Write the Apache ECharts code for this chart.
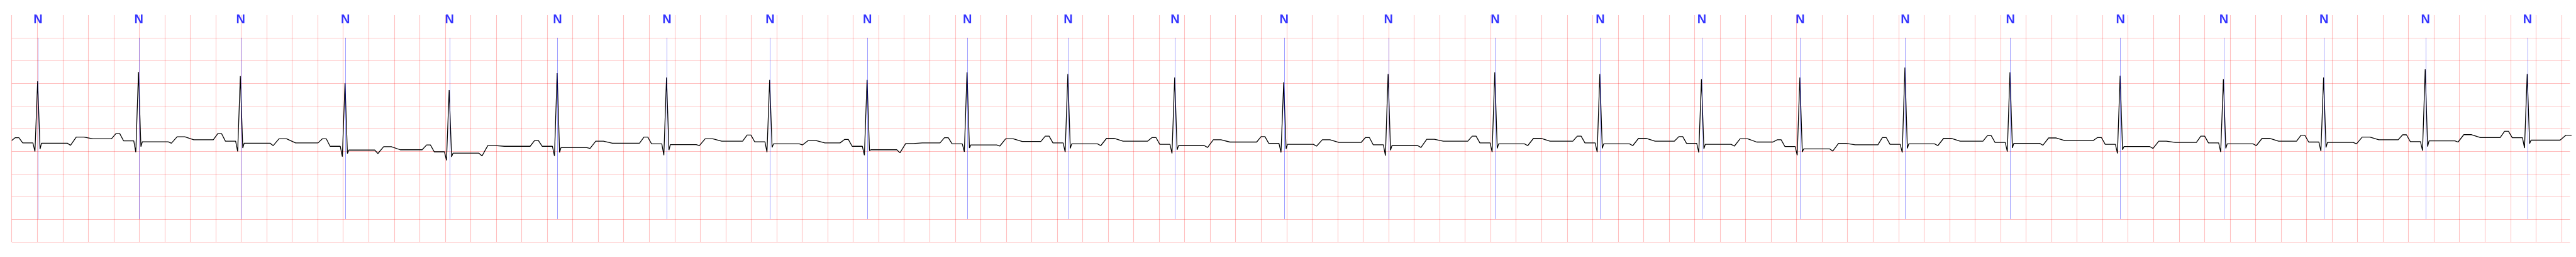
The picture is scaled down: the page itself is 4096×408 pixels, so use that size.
<!DOCTYPE html>
<html><head><meta charset="utf-8">
<script src="https://cdn.jsdelivr.net/npm/echarts@6/dist/echarts.min.js"></script>
<style>html,body{margin:0;padding:0;background:#fff;overflow:hidden}#c{width:4096px;height:408px}</style>
</head><body><div id="c"></div><script>
// Beat annotation times (s) and labels
const beatTimes = [0.206,0.997,1.796,2.617,3.434,4.281,5.139,5.948,6.712,7.496,8.287,9.125,9.980,10.799,11.636,12.460,13.257,14.029,14.853,15.677,16.541,17.351,18.137,18.934,19.734];
const beatLabels = ['N','N','N','N','N','N','N','N','N','N','N','N','N','N','N','N','N','N','N','N','N','N','N','N','N'];
// ECG key values per beat (mV)
const pPeak   = [0.295,0.385,0.385,0.272,0.136,0.234,0.310,0.355,0.257,0.295,0.33,0.30,0.32,0.30,0.33,0.33,0.32,0.25,0.30,0.34,0.30,0.33,0.35,0.36,0.438];
const prLevel = [0.181,0.227,0.219,0.106,-0.015,0.106,0.159,0.204,0.106,0.159,0.18,0.15,0.17,0.14,0.18,0.18,0.17,0.10,0.15,0.19,0.15,0.18,0.20,0.21,0.295];
const qTrough = [-0.008,-0.023,-0.008,-0.121,-0.204,-0.106,-0.091,-0.023,-0.091,-0.015,-0.02,-0.05,-0.03,-0.10,-0.02,-0.02,-0.03,-0.09,-0.03,-0.01,-0.05,-0.02,0.00,0.01,0.068];
const rPeak   = [1.541,1.745,1.654,1.495,1.344,1.722,1.624,1.571,1.571,1.737,1.699,1.624,1.518,1.699,1.737,1.699,1.586,1.624,1.843,1.737,1.662,1.586,1.624,1.805,1.699];
const sTrough = [0.045,0.098,0.068,-0.053,-0.128,-0.030,0.023,0.083,0.008,0.068,0.06,0.03,0.05,0.02,0.06,0.06,0.05,-0.02,0.06,0.07,0.03,0.06,0.08,0.10,0.166];
const stLevel = [0.174,0.204,0.174,0.023,-0.045,0.076,0.144,0.159,0.030,0.136,0.16,0.12,0.15,0.12,0.16,0.16,0.15,0.05,0.16,0.17,0.10,0.16,0.19,0.227,0.242];
const stEnd   = [0.128,0.174,0.121,-0.053,-0.106,0.060,0.121,0.136,-0.038,0.113,0.12,0.08,0.11,0.08,0.12,0.12,0.11,0.00,0.12,0.13,0.06,0.12,0.16,0.20,0.242];
const tPeak   = [0.310,0.317,0.272,0.098,0.121,0.219,0.272,0.234,0.166,0.272,0.28,0.25,0.25,0.26,0.28,0.28,0.27,0.17,0.28,0.29,0.22,0.28,0.31,0.363,0.35];
const tTail   = [0.272,0.249,0.181,0.030,0.106,0.174,0.219,0.181,0.181,0.211,0.22,0.20,0.19,0.22,0.22,0.22,0.20,0.14,0.22,0.23,0.19,0.22,0.25,0.30,0.30];
const startLevel = 0.234;
// Wave timing offsets relative to R (s)
const waveOffsets = {pStart:-0.215,pUp:-0.18,pDown:-0.15,prStart:-0.12,qStart:-0.04,q:-0.024,rA:-0.003,rB:0.003,s:0.016,st:0.027,stStop:0.23,stEnd:0.255,tA:0.30,tB:0.36,tail:0.43};

const ecg = [[0, startLevel]];
beatTimes.forEach((R, i) => {
  const o = waveOffsets;
  if (i > 0) ecg.push([R + o.pStart, tTail[i - 1]]);
  ecg.push([R + o.pUp, pPeak[i]], [R + o.pDown, pPeak[i]], [R + o.prStart, prLevel[i]],
           [R + o.qStart, prLevel[i]], [R + o.q, qTrough[i]], [R + o.rA, rPeak[i]], [R + o.rB, rPeak[i]],
           [R + o.s, sTrough[i]], [R + o.st, stLevel[i]], [R + o.stStop, stLevel[i]], [R + o.stEnd, stEnd[i]],
           [R + o.tA, tPeak[i]], [R + o.tB, tPeak[i]], [R + o.tail, tTail[i]]);
});

const xMax = 20.067;
const annLines = beatTimes.map(t => [{coord: [t, 2.5]}, {coord: [t, -1.5]}]);
const labelPts = beatTimes.map((t, i) => ({value: [t, 2.897], name: beatLabels[i]}));

const chart = echarts.init(document.getElementById('c'), null, {renderer: 'canvas'});
chart.setOption({
  animation: false,
  backgroundColor: '#ffffff',
  grid: {left: 18.7, right: 9.5, top: 23.9, bottom: 24.1, containLabel: false},
  xAxis: {
    type: 'value', min: 0, max: xMax, interval: 0.2,
    axisLine: {show: false}, axisTick: {show: false}, axisLabel: {show: false},
    splitLine: {show: true, showMaxLine: false, lineStyle: {color: 'rgba(255,0,0,0.25)', width: 1.1}}
  },
  yAxis: {
    type: 'value', min: -2, max: 3, interval: 0.5,
    axisLine: {show: false}, axisTick: {show: false}, axisLabel: {show: false},
    splitLine: {show: true, showMaxLine: false, lineStyle: {color: 'rgba(255,0,0,0.25)', width: 1.1}}
  },
  series: [
    {
      type: 'line', data: ecg, symbol: 'none', silent: true, z: 3,
      lineStyle: {color: '#000000', width: 1.3},
      markLine: {
        silent: true, symbol: ['none', 'none'], animation: false,
        label: {show: false},
        lineStyle: {color: 'rgba(0,0,255,0.55)', width: 0.7, type: 'solid'},
        data: annLines
      }
    },
    {
      type: 'scatter', data: labelPts, symbolSize: 0, silent: true, z: 4,
      label: {show: true, position: 'inside', formatter: p => p.name,
        color: '#0000ff', fontWeight: 'bold', fontSize: 20, fontFamily: 'Liberation Sans, Arial, sans-serif'}
    }
  ]
});
</script></body></html>
